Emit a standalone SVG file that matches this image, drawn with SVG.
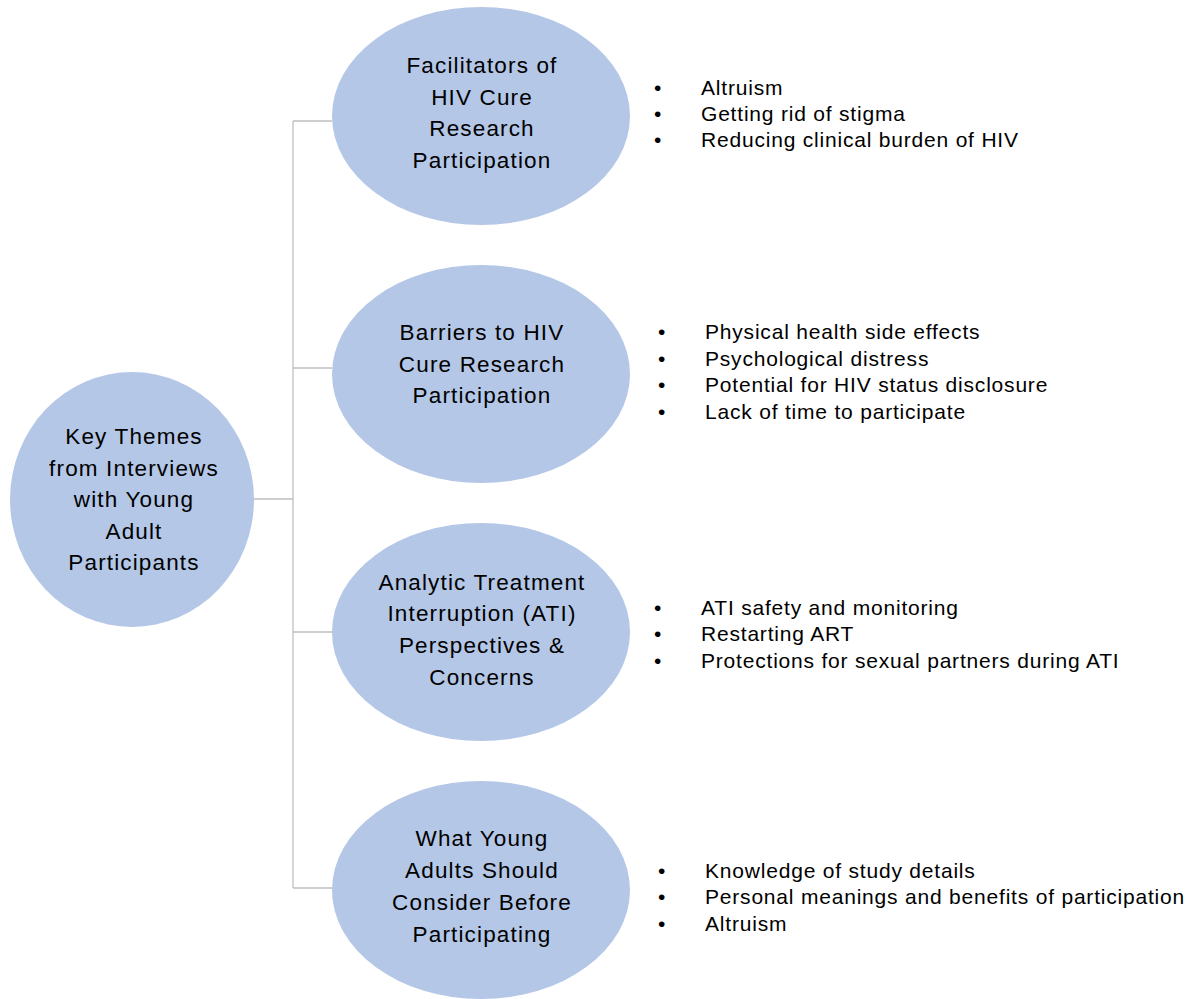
<svg xmlns="http://www.w3.org/2000/svg" width="1197" height="999" viewBox="0 0 1197 999">
<style>
.node{fill:#B4C7E7;}
.t{font-family:"Liberation Sans",Arial,sans-serif;font-size:22.5px;letter-spacing:1.15px;fill:#000;text-anchor:middle;}
.b{font-family:"Liberation Sans",Arial,sans-serif;font-size:21px;letter-spacing:0.8px;fill:#000;}
.c{stroke:#BFBFBF;stroke-width:1.3;fill:none;}
</style>
<rect width="1197" height="999" fill="#fff"/>
<g id="connectors">
<path class="c" d="M254 499 H293 M293 121 V888 M293 121 H332 M293 368 H332 M293 632 H332 M293 888 H332"/>
</g>
<g id="root">
<ellipse class="node" cx="132" cy="499.5" rx="122" ry="127.5"/>
<text class="t"><tspan x="134" y="444">Key Themes</tspan><tspan x="134" y="476">from Interviews</tspan><tspan x="134" y="507">with Young</tspan><tspan x="134" y="539">Adult</tspan><tspan x="134" y="570">Participants</tspan></text>
</g>
<g id="facilitators">
<ellipse class="node" cx="481" cy="116" rx="149" ry="109"/>
<text class="t"><tspan x="482" y="73">Facilitators of</tspan><tspan x="482" y="105">HIV Cure</tspan><tspan x="482" y="136">Research</tspan><tspan x="482" y="168">Participation</tspan></text>
</g>
<g id="facilitators-list">
<text class="b"><tspan x="654" y="95">•</tspan><tspan x="701" y="95">Altruism</tspan><tspan x="654" y="121">•</tspan><tspan x="701" y="121">Getting rid of stigma</tspan><tspan x="654" y="147">•</tspan><tspan x="701" y="147">Reducing clinical burden of HIV</tspan></text>
</g>
<g id="barriers">
<ellipse class="node" cx="481" cy="374" rx="149" ry="109"/>
<text class="t"><tspan x="482" y="340">Barriers to HIV</tspan><tspan x="482" y="372">Cure Research</tspan><tspan x="482" y="403">Participation</tspan></text>
</g>
<g id="barriers-list">
<text class="b"><tspan x="658" y="339">•</tspan><tspan x="705" y="339">Physical health side effects</tspan><tspan x="658" y="366">•</tspan><tspan x="705" y="366">Psychological distress</tspan><tspan x="658" y="392">•</tspan><tspan x="705" y="392">Potential for HIV status disclosure</tspan><tspan x="658" y="419">•</tspan><tspan x="705" y="419">Lack of time to participate</tspan></text>
</g>
<g id="ati">
<ellipse class="node" cx="481" cy="632" rx="149" ry="109"/>
<text class="t"><tspan x="482" y="590">Analytic Treatment</tspan><tspan x="482" y="621">Interruption (ATI)</tspan><tspan x="482" y="653">Perspectives &amp;</tspan><tspan x="482" y="685">Concerns</tspan></text>
</g>
<g id="ati-list">
<text class="b"><tspan x="654" y="615">•</tspan><tspan x="701" y="615">ATI safety and monitoring</tspan><tspan x="654" y="641">•</tspan><tspan x="701" y="641">Restarting ART</tspan><tspan x="654" y="668">•</tspan><tspan x="701" y="668">Protections for sexual partners during ATI</tspan></text>
</g>
<g id="consider">
<ellipse class="node" cx="481" cy="890" rx="149" ry="109"/>
<text class="t"><tspan x="482" y="846">What Young</tspan><tspan x="482" y="878">Adults Should</tspan><tspan x="482" y="910">Consider Before</tspan><tspan x="482" y="942">Participating</tspan></text>
</g>
<g id="consider-list">
<text class="b"><tspan x="658" y="878">•</tspan><tspan x="705" y="878">Knowledge of study details</tspan><tspan x="658" y="904">•</tspan><tspan x="705" y="904">Personal meanings and benefits of participation</tspan><tspan x="658" y="931">•</tspan><tspan x="705" y="931">Altruism</tspan></text>
</g>
</svg>
